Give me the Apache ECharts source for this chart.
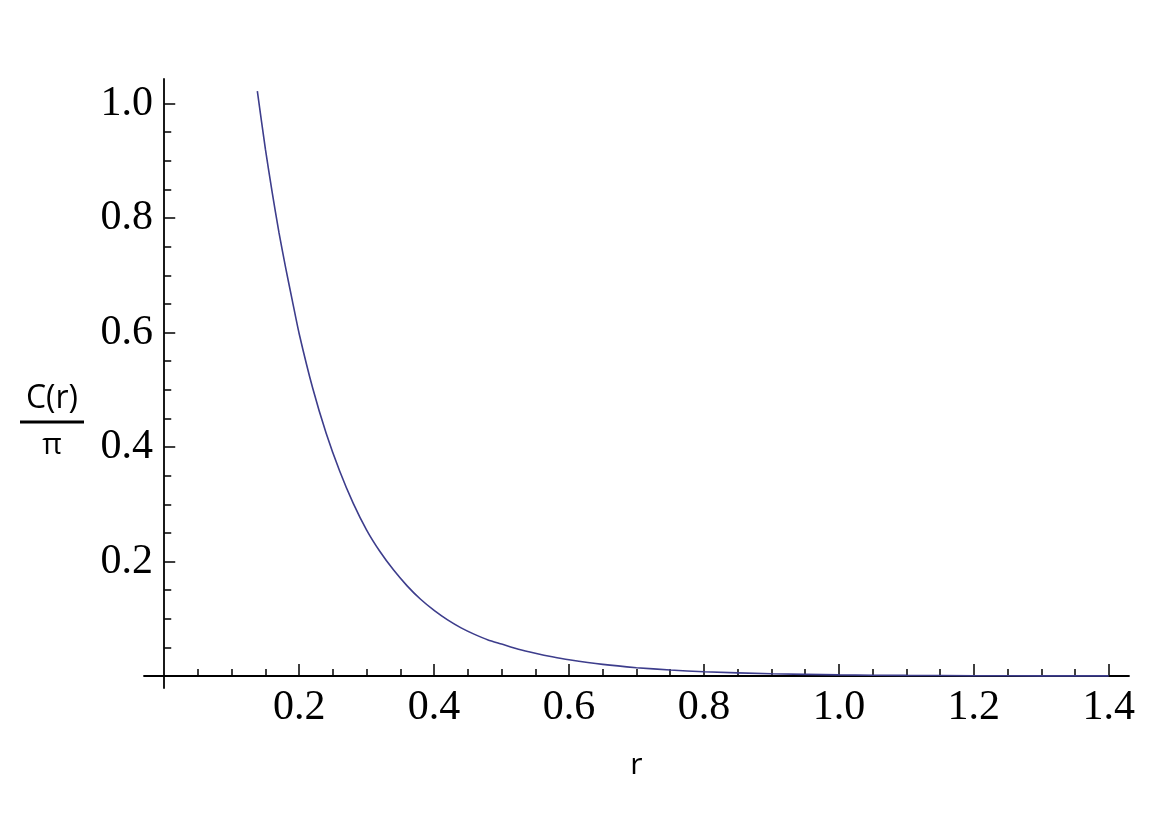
<!DOCTYPE html>
<html>
<head>
<meta charset="utf-8">
<script src="https://cdn.jsdelivr.net/npm/echarts/dist/echarts.min.js"></script>
<style>
  html, body { margin: 0; padding: 0; background: #fff; }
  #chart { width: 1166px; height: 828px; }
</style>
</head>
<body>
<div id="chart"></div>
<script>
// ---- data ----
const rValues = [0.138, 0.15, 0.16, 0.17, 0.18, 0.19, 0.20, 0.22, 0.24, 0.26, 0.28, 0.30, 0.32, 0.34, 0.36, 0.38, 0.40, 0.42, 0.44, 0.46, 0.48, 0.50, 0.525, 0.55, 0.575, 0.60, 0.65, 0.70, 0.75, 0.80, 0.90, 1.00, 1.10, 1.20, 1.30, 1.40];
const cValues = [1.022, 0.92, 0.845, 0.775, 0.713, 0.655, 0.598, 0.503, 0.424, 0.358, 0.302, 0.255, 0.217, 0.185, 0.1575, 0.134, 0.1146, 0.098, 0.0841, 0.0727, 0.0629, 0.0558, 0.0468, 0.0397, 0.0335, 0.0283, 0.0202, 0.0145, 0.0104, 0.0074, 0.0038, 0.0019, 0.0010, 0.0005, 0.00025, 0.00012];

const xMajorTicks = [0.2, 0.4, 0.6, 0.8, 1.0, 1.2, 1.4];
const xMinorTicks = [0.05, 0.1, 0.15, 0.25, 0.3, 0.35, 0.45, 0.5, 0.55, 0.65, 0.7, 0.75, 0.85, 0.9, 0.95, 1.05, 1.1, 1.15, 1.25, 1.3, 1.35];
const yMajorTicks = [0.2, 0.4, 0.6, 0.8, 1.0];
const yMinorTicks = [0.05, 0.1, 0.15, 0.25, 0.3, 0.35, 0.45, 0.5, 0.55, 0.65, 0.7, 0.75, 0.85, 0.9, 0.95];

const xName = 'r';
const yNameTop = 'C(r)';
const yNameBottom = 'π';

// ---- chart ----
const chart = echarts.init(document.getElementById('chart'), null, { renderer: 'canvas' });

const serif = 'Liberation Serif, Times New Roman, serif';
const sans = 'Open Sans, DejaVu Sans, sans-serif';
const xRange = [-0.03, 1.43];
const yRange = [-0.021, 1.043];

function fmt(v) { return Number(v).toFixed(1); }

const option = {
  backgroundColor: '#ffffff',
  animation: false,
  grid: { left: 144, right: 37, top: 79, bottom: 140, show: false, containLabel: false, outerBoundsMode: 'none' },
  xAxis: [
    {
      type: 'value', position: 'bottom', min: xRange[0], max: xRange[1],
      axisLine: { show: true, onZero: true, onZeroAxisIndex: 0, lineStyle: { color: '#000', width: 1.8 } },
      axisTick: { show: true, inside: true, length: 12, customValues: xMajorTicks, lineStyle: { color: '#000', width: 1.5 } },
      axisLabel: { show: true, customValues: xMajorTicks, formatter: fmt, margin: -1, color: '#000', fontFamily: serif, fontSize: 42 },
      splitLine: { show: false },
      name: xName, nameLocation: 'middle', nameGap: 62, nameMoveOverlap: false,
      nameTextStyle: { fontFamily: sans, fontSize: 30, color: '#000' }
    },
    {
      type: 'value', position: 'bottom', min: xRange[0], max: xRange[1],
      axisLine: { show: false, onZero: true, onZeroAxisIndex: 0 },
      axisTick: { show: true, inside: true, length: 7, customValues: xMinorTicks, lineStyle: { color: '#000', width: 1.5 } },
      axisLabel: { show: false },
      splitLine: { show: false }
    }
  ],
  yAxis: [
    {
      type: 'value', position: 'left', min: yRange[0], max: yRange[1],
      axisLine: { show: true, onZero: true, onZeroAxisIndex: 0, lineStyle: { color: '#000', width: 1.8 } },
      axisTick: { show: true, inside: true, length: 11, customValues: yMajorTicks, lineStyle: { color: '#000', width: 1.5 } },
      axisLabel: { show: true, customValues: yMajorTicks, formatter: fmt, margin: -9, color: '#000', fontFamily: serif, fontSize: 42 },
      splitLine: { show: false },
      name: '{n|' + yNameTop + '}\n{bar| }\n{d|' + yNameBottom + '}',
      nameLocation: 'middle', nameRotate: 0, nameGap: 60, nameMoveOverlap: false,
      nameTextStyle: {
        padding: [77, 0, 0, 0],
        rich: {
          n: { fontFamily: sans, fontSize: 32, color: '#000', lineHeight: 34, align: 'center' },
          bar: { width: 64, height: 3, lineHeight: 12, backgroundColor: '#000', align: 'center', fontSize: 1 },
          d: { fontFamily: sans, fontSize: 30, color: '#000', lineHeight: 34, align: 'center' }
        }
      }
    },
    {
      type: 'value', position: 'left', min: yRange[0], max: yRange[1],
      axisLine: { show: false, onZero: true, onZeroAxisIndex: 0 },
      axisTick: { show: true, inside: true, length: 7, customValues: yMinorTicks, lineStyle: { color: '#000', width: 1.5 } },
      axisLabel: { show: false },
      splitLine: { show: false }
    }
  ],
  series: [
    {
      type: 'line',
      xAxisIndex: 0, yAxisIndex: 0,
      data: rValues.map((r, i) => [r, cValues[i]]),
      showSymbol: false,
      smooth: 0.2,
      lineStyle: { color: '#3d3d8c', width: 1.6 },
      clip: true
    }
  ]
};

chart.setOption(option);
</script>
</body>
</html>
